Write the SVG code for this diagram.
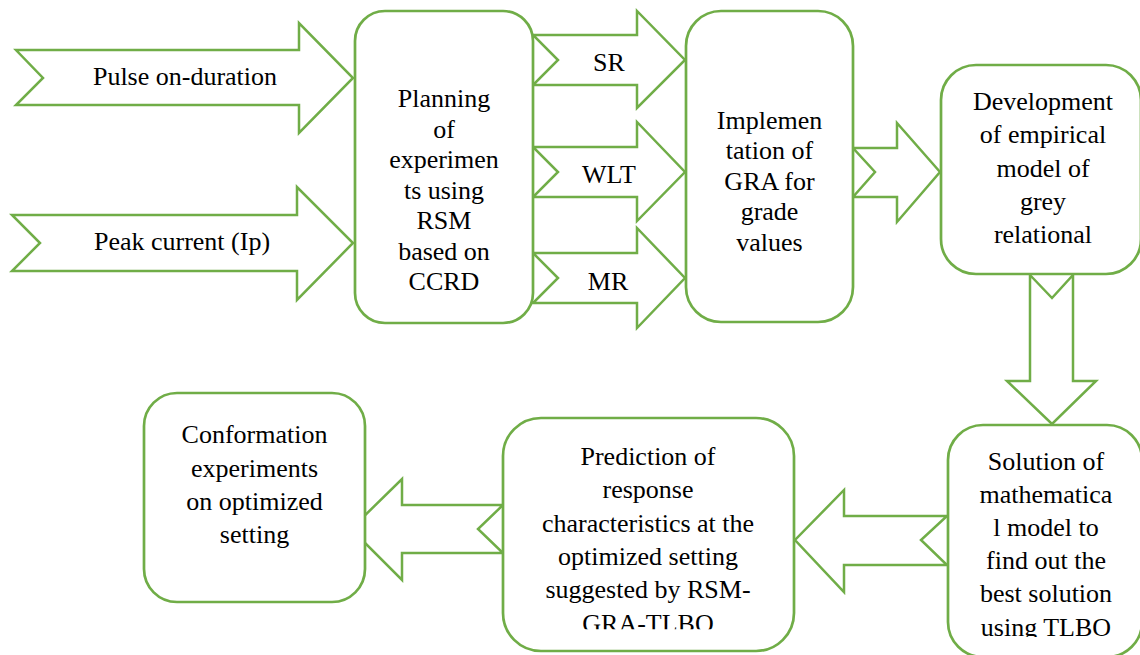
<svg xmlns="http://www.w3.org/2000/svg" width="1140" height="655" viewBox="0 0 1140 655">
<style>
.ar{fill:#fff;stroke:#70AD47;stroke-width:2.5;stroke-linejoin:miter}
.bx{fill:#fff;stroke:#70AD47;stroke-width:2.7}
.t{font-size:26px;fill:#000;text-anchor:middle}
</style>
<defs>
<clipPath id="clipPred"><rect x="500" y="400" width="300" height="229.3"/></clipPath>
<clipPath id="clipSol"><rect x="940" y="400" width="200" height="237"/></clipPath>
</defs>
<rect width="1140" height="655" fill="#fff"/>
<g font-family="Liberation Serif, Times New Roman, DejaVu Serif, serif">
<g id="connectors">
<g id="a-pulse"><path class="ar" d="M16,50 L299,50 L299,23 L353,78 L299,133 L299,105 L16,105 L43,78 Z"/><text class="t" x="185" y="85">Pulse on-duration</text></g>
<g id="a-peak"><path class="ar" d="M12,215 L297,215 L297,187 L353,243 L297,300 L297,271 L12,271 L40,243 Z"/><text class="t" x="182" y="250">Peak current (Ip)</text></g>
<g id="a-sr"><path class="ar" d="M533,35 L637,35 L637,11 L685,60 L637,108 L637,85 L533,85 L558,60 Z"/><text class="t" x="609" y="71">SR</text></g>
<g id="a-wlt"><path class="ar" d="M533,147 L637,147 L637,122 L685,172 L637,221 L637,197 L533,197 L558,172 Z"/><text class="t" x="609" y="183">WLT</text></g>
<g id="a-mr"><path class="ar" d="M533,253 L637,253 L637,228 L685,278 L637,328 L637,303 L533,303 L558,278 Z"/><text class="t" x="608" y="290">MR</text></g>
<path id="a-impl-dev" class="ar" d="M853,148 L897,148 L897,123 L940,172 L897,222 L897,197 L853,197 L875,172 Z"/>
<path id="a-dev-sol" class="ar" d="M1030,275 L1030,381 L1007,381 L1052,424 L1096,381 L1073,381 L1073,275 L1052,298 Z"/>
<path id="a-sol-pred" class="ar" d="M947,516 L844,516 L844,490 L795,540 L844,592 L844,565 L947,565 L921,540 Z"/>
<path id="a-pred-conf" class="ar" d="M503,505 L402,505 L402,479 L351,529 L402,580 L402,553 L503,553 L478,529 Z"/>
</g>
<g id="planning">
<rect class="bx" x="355" y="11" width="178" height="312" rx="30"/>
<text class="t" x="444" y="107">Planning</text>
<text class="t" x="444" y="137.5">of</text>
<text class="t" x="444" y="168">experimen</text>
<text class="t" x="444" y="198.5">ts using</text>
<text class="t" x="444" y="229">RSM</text>
<text class="t" x="444" y="259.5">based on</text>
<text class="t" x="444" y="290">CCRD</text>
</g>
<g id="implementation">
<rect class="bx" x="686" y="11" width="167" height="311" rx="35"/>
<text class="t" x="769.5" y="128.5">Implemen</text>
<text class="t" x="769.5" y="159">tation of</text>
<text class="t" x="769.5" y="189.5">GRA for</text>
<text class="t" x="769.5" y="220">grade</text>
<text class="t" x="769.5" y="251">values</text>
</g>
<g id="development">
<rect class="bx" x="941" y="65" width="200" height="209" rx="35"/>
<text class="t" x="1043" y="110">Development</text>
<text class="t" x="1043" y="143.3">of empirical</text>
<text class="t" x="1043" y="176.5">model of</text>
<text class="t" x="1043" y="209.8">grey</text>
<text class="t" x="1043" y="243">relational</text>
</g>
<g id="solution">
<rect class="bx" x="948" y="425" width="194" height="232" rx="35"/>
<text class="t" x="1046" y="470">Solution of</text>
<text class="t" x="1046" y="503">mathematica</text>
<text class="t" x="1046" y="536">l model to</text>
<text class="t" x="1046" y="569">find out the</text>
<text class="t" x="1046" y="602">best solution</text>
<text class="t" x="1046" y="636" clip-path="url(#clipSol)">using TLBO</text>
</g>
<g id="prediction">
<rect class="bx" x="503" y="418" width="291" height="233" rx="38"/>
<text class="t" x="648" y="465">Prediction of</text>
<text class="t" x="648" y="498.3">response</text>
<text class="t" x="648" y="531.7">characteristics at the</text>
<text class="t" x="648" y="565">optimized setting</text>
<text class="t" x="648" y="598.3">suggested by RSM-</text>
<text class="t" x="648" y="632" clip-path="url(#clipPred)">GRA-TLBO</text>
</g>
<g id="conformation">
<rect class="bx" x="144" y="393" width="221" height="209" rx="33"/>
<text class="t" x="254.5" y="443.3">Conformation</text>
<text class="t" x="254.5" y="476.7">experiments</text>
<text class="t" x="254.5" y="510">on optimized</text>
<text class="t" x="254.5" y="543.3">setting</text>
</g>
</g>
</svg>
